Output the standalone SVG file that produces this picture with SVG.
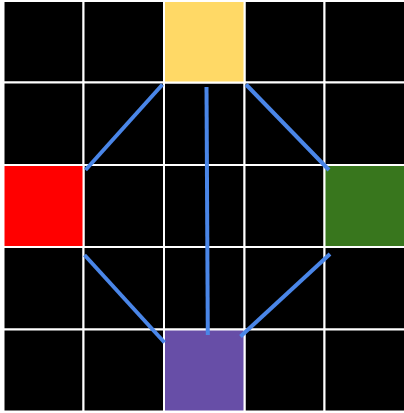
<svg xmlns="http://www.w3.org/2000/svg" width="404" height="413" viewBox="0 0 404 413">
<style>
.cell{stroke:#ffffff;stroke-width:2}
.bk{fill:#000000}
.conn line{stroke:#4a86e8;stroke-width:4;stroke-linecap:butt}
</style>
<rect width="404" height="413" fill="#ffffff"/>
<rect x="3.5" y="1" width="401.5" height="410.5" fill="none" stroke="#aaaaaa" stroke-width="1"/>
<g id="grid">
<rect class="cell bk" x="3.5" y="1" width="80" height="81.5"/>
<rect class="cell bk" x="83.5" y="1" width="80.5" height="81.5"/>
<rect class="cell bk" x="244.5" y="1" width="80" height="81.5"/>
<rect class="cell bk" x="324.5" y="1" width="80.5" height="81.5"/>
<rect class="cell bk" x="3.5" y="82.5" width="80" height="82.5"/>
<rect class="cell bk" x="83.5" y="82.5" width="80.5" height="82.5"/>
<rect class="cell bk" x="164" y="82.5" width="80.5" height="82.5"/>
<rect class="cell bk" x="244.5" y="82.5" width="80" height="82.5"/>
<rect class="cell bk" x="324.5" y="82.5" width="80.5" height="82.5"/>
<rect class="cell bk" x="83.5" y="165" width="80.5" height="82"/>
<rect class="cell bk" x="164" y="165" width="80.5" height="82"/>
<rect class="cell bk" x="244.5" y="165" width="80" height="82"/>
<rect class="cell bk" x="3.5" y="247" width="80" height="82.5"/>
<rect class="cell bk" x="83.5" y="247" width="80.5" height="82.5"/>
<rect class="cell bk" x="164" y="247" width="80.5" height="82.5"/>
<rect class="cell bk" x="244.5" y="247" width="80" height="82.5"/>
<rect class="cell bk" x="324.5" y="247" width="80.5" height="82.5"/>
<rect class="cell bk" x="3.5" y="329.5" width="80" height="82"/>
<rect class="cell bk" x="83.5" y="329.5" width="80.5" height="82"/>
<rect class="cell bk" x="244.5" y="329.5" width="80" height="82"/>
<rect class="cell bk" x="324.5" y="329.5" width="80.5" height="82"/>
</g>
<g id="yellow"><rect class="cell" x="164" y="1" width="80.5" height="81.5" fill="#ffd966"/></g>
<g id="red"><rect class="cell" x="3.5" y="165" width="80" height="82" fill="#ff0000"/></g>
<g id="green"><rect class="cell" x="324.5" y="165" width="80.5" height="82" fill="#38761d"/></g>
<g id="purple"><rect class="cell" x="164" y="329.5" width="80.5" height="82" fill="#674ea7"/></g>
<g id="connectors" class="conn">
<line x1="162.5" y1="84.5" x2="85.5" y2="170"/>
<line x1="206.5" y1="87" x2="207.8" y2="335"/>
<line x1="246" y1="84.5" x2="329" y2="170"/>
<line x1="84.5" y1="255" x2="164.5" y2="342.5"/>
<line x1="330" y1="254" x2="240.5" y2="336.5"/>
</g>
</svg>
